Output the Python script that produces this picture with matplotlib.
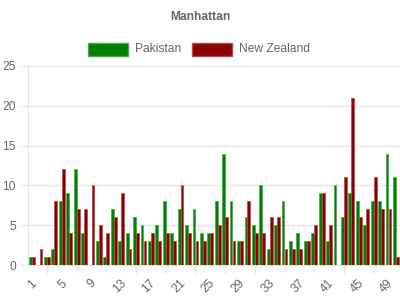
import matplotlib
matplotlib.use("Agg")
import matplotlib.pyplot as plt
from matplotlib.patches import Rectangle
from matplotlib.transforms import ScaledTranslation
import numpy as np

plt.rcParams['font.family'] = ['Liberation Sans', 'DejaVu Sans']

categories = list(range(1, 51))
pakistan = [1, 0, 1, 2, 8, 9, 12, 4, 0, 3, 1, 7, 3, 4, 6, 5, 3, 5, 8, 4,
            7, 5, 7, 4, 4, 8, 14, 8, 3, 6, 5, 10, 2, 5, 8, 3, 4, 3, 4, 9,
            3, 10, 6, 9, 8, 5, 8, 8, 14, 11]
new_zealand = [1, 2, 1, 8, 12, 4, 7, 7, 10, 5, 4, 6, 9, 2, 4, 3, 4, 3, 4, 3,
               10, 4, 3, 3, 4, 5, 6, 3, 3, 8, 4, 4, 6, 6, 2, 2, 2, 3, 5, 9,
               5, 0, 11, 21, 6, 7, 11, 7, 7, 1]
tick_labels = [str(c) for c in categories[::4]]

green = '#008000'
green_edge = '#4da64d'
red = '#8b0000'
red_edge = '#b04c4c'
grid = '#e6e6e6'
txt = '#666666'
fs = 8.64

fig = plt.figure(figsize=(4, 3), dpi=100)
ax = fig.add_axes([28.5 / 400, 35 / 300, 371.5 / 400, 199 / 300])

x = np.array(categories, dtype=float)
w = 0.38
ax.bar(x - 0.2, pakistan, width=w, color=green, edgecolor=green_edge, linewidth=0.5, zorder=3)
ax.bar(x + 0.2, new_zealand, width=w, color=red, edgecolor=red_edge, linewidth=0.5, zorder=3)

ax.set_xlim(0.52, 50.55)
ax.set_ylim(0, 25)
ax.set_yticks([0, 5, 10, 15, 20, 25])
ax.yaxis.grid(True, color=grid, linewidth=1, zorder=0)
ax.tick_params(axis='y', length=6, width=1, color=grid, labelcolor=txt, labelsize=fs, pad=3)

ax.set_xticks(categories[::4])
ax.set_xticklabels(tick_labels, rotation=45, ha='right', va='center', rotation_mode='anchor')
ax.set_xticks(np.arange(3, 51, 4), minor=True)
ax.tick_params(axis='x', which='major', length=0, labelcolor=txt, labelsize=fs, pad=12)
ax.tick_params(axis='x', which='minor', length=6, width=1, color=grid)
offset = ScaledTranslation(3 / 100, 0, fig.dpi_scale_trans)
for lab in ax.get_xticklabels():
    lab.set_transform(lab.get_transform() + offset)

for s in ['top', 'right']:
    ax.spines[s].set_visible(False)
ax.spines['left'].set_color(grid)
ax.spines['bottom'].set_color(grid)
ax.set_axisbelow(True)

fig.text(0.5, 1 - 17 / 300, 'Manhattan', ha='center', va='center', fontsize=fs,
         fontweight='bold', color=txt)

ly = 1 - 49 / 300
bh = 13 / 300
fig.patches.append(Rectangle((88 / 400, ly - bh / 2), 40 / 400, bh, transform=fig.transFigure,
                             facecolor=green, edgecolor=green_edge, linewidth=1))
fig.text(135 / 400, ly, 'Pakistan', ha='left', va='center', fontsize=fs, color=txt)
fig.patches.append(Rectangle((192 / 400, ly - bh / 2), 40 / 400, bh, transform=fig.transFigure,
                             facecolor=red, edgecolor=red_edge, linewidth=1))
fig.text(239 / 400, ly, 'New Zealand', ha='left', va='center', fontsize=fs, color=txt)

fig.savefig('out.png', dpi=100)
